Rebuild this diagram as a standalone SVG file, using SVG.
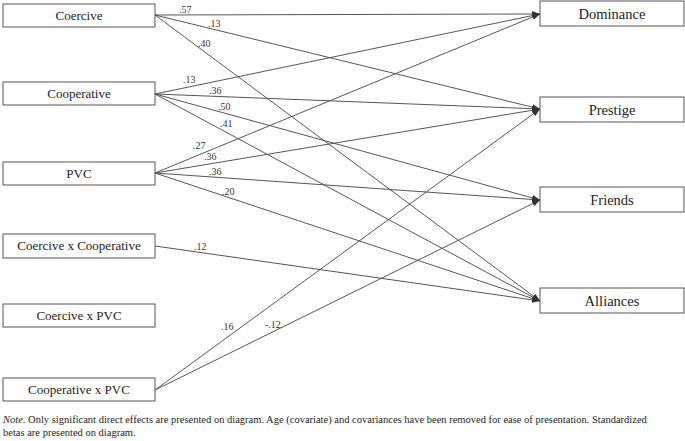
<svg xmlns="http://www.w3.org/2000/svg" width="685" height="441" viewBox="0 0 685 441" font-family="'Liberation Serif', 'Times New Roman', 'DejaVu Serif', serif">
<style>
text{font-family:'Liberation Serif','Times New Roman','DejaVu Serif',serif}
.box{fill:#fff;stroke:#555;stroke-width:1}
.t{font-size:13px;fill:#222;text-anchor:middle}
.tr{font-size:14.5px;fill:#222;text-anchor:middle}
.l{font-size:10px;fill:#333}
.c line{stroke:#555;stroke-width:1;marker-end:url(#a)}
.n{font-size:10.5px;fill:#222}
</style>
<defs><marker id="a" markerWidth="8" markerHeight="6" refX="8" refY="3" orient="auto" markerUnits="userSpaceOnUse"><path d="M0,0 L8,3 L0,6 Z" fill="#333"/></marker></defs>
<g id="coercive"><rect class="box" x="3" y="4" width="152" height="23"/><text class="t" x="79" y="20">Coercive</text></g>
<g id="cooperative"><rect class="box" x="3" y="82" width="152" height="23"/><text class="t" x="79" y="98">Cooperative</text></g>
<g id="pvc"><rect class="box" x="3" y="162" width="152" height="23"/><text class="t" x="79" y="178">PVC</text></g>
<g id="cxc"><rect class="box" x="3" y="234" width="152" height="24"/><text class="t" x="79" y="250">Coercive x Cooperative</text></g>
<g id="cxpvc"><rect class="box" x="3" y="304" width="152" height="23"/><text class="t" x="79" y="320">Coercive x PVC</text></g>
<g id="coopxpvc"><rect class="box" x="3" y="378" width="152" height="23"/><text class="t" x="79" y="394">Cooperative x PVC</text></g>
<g id="dominance"><rect class="box" x="540" y="1" width="144" height="25"/><text class="tr" x="612" y="19">Dominance</text></g>
<g id="prestige"><rect class="box" x="540" y="97" width="144" height="25"/><text class="tr" x="612" y="115">Prestige</text></g>
<g id="friends"><rect class="box" x="540" y="187" width="144" height="25"/><text class="tr" x="612" y="205">Friends</text></g>
<g id="alliances"><rect class="box" x="540" y="288" width="144" height="25"/><text class="tr" x="612" y="306">Alliances</text></g>
<g class="c" id="connectors">
<line x1="155" y1="15" x2="540" y2="14"/>
<line x1="155" y1="15" x2="540" y2="109"/>
<line x1="155" y1="15" x2="540" y2="301"/>
<line x1="155" y1="94" x2="540" y2="14"/>
<line x1="155" y1="94" x2="540" y2="109"/>
<line x1="155" y1="94" x2="540" y2="200"/>
<line x1="155" y1="94" x2="540" y2="301"/>
<line x1="155" y1="173" x2="540" y2="14"/>
<line x1="155" y1="173" x2="540" y2="109"/>
<line x1="155" y1="173" x2="540" y2="200"/>
<line x1="155" y1="173" x2="540" y2="301"/>
<line x1="155" y1="246" x2="540" y2="301"/>
<line x1="155" y1="390" x2="540" y2="109"/>
<line x1="155" y1="390" x2="540" y2="200"/>
</g>
<g id="labels">
<text class="l" x="179" y="13">.57</text>
<text class="l" x="208" y="27">.13</text>
<text class="l" x="198" y="47">.40</text>
<text class="l" x="183" y="83">.13</text>
<text class="l" x="209" y="94">.36</text>
<text class="l" x="218" y="110">.50</text>
<text class="l" x="220" y="127">.41</text>
<text class="l" x="193" y="149">.27</text>
<text class="l" x="204" y="160">.36</text>
<text class="l" x="209" y="175">.36</text>
<text class="l" x="222" y="195">.20</text>
<text class="l" x="194" y="250">.12</text>
<text class="l" x="221" y="330">.16</text>
<text class="l" x="265" y="328">-.12</text>
</g>
<text class="n" x="3" y="423"><tspan font-style="italic">Note</tspan>. Only significant direct effects are presented on diagram. Age (covariate) and covariances have been removed for ease of presentation. Standardized</text>
<text class="n" x="3" y="436">betas are presented on diagram.</text>
</svg>
